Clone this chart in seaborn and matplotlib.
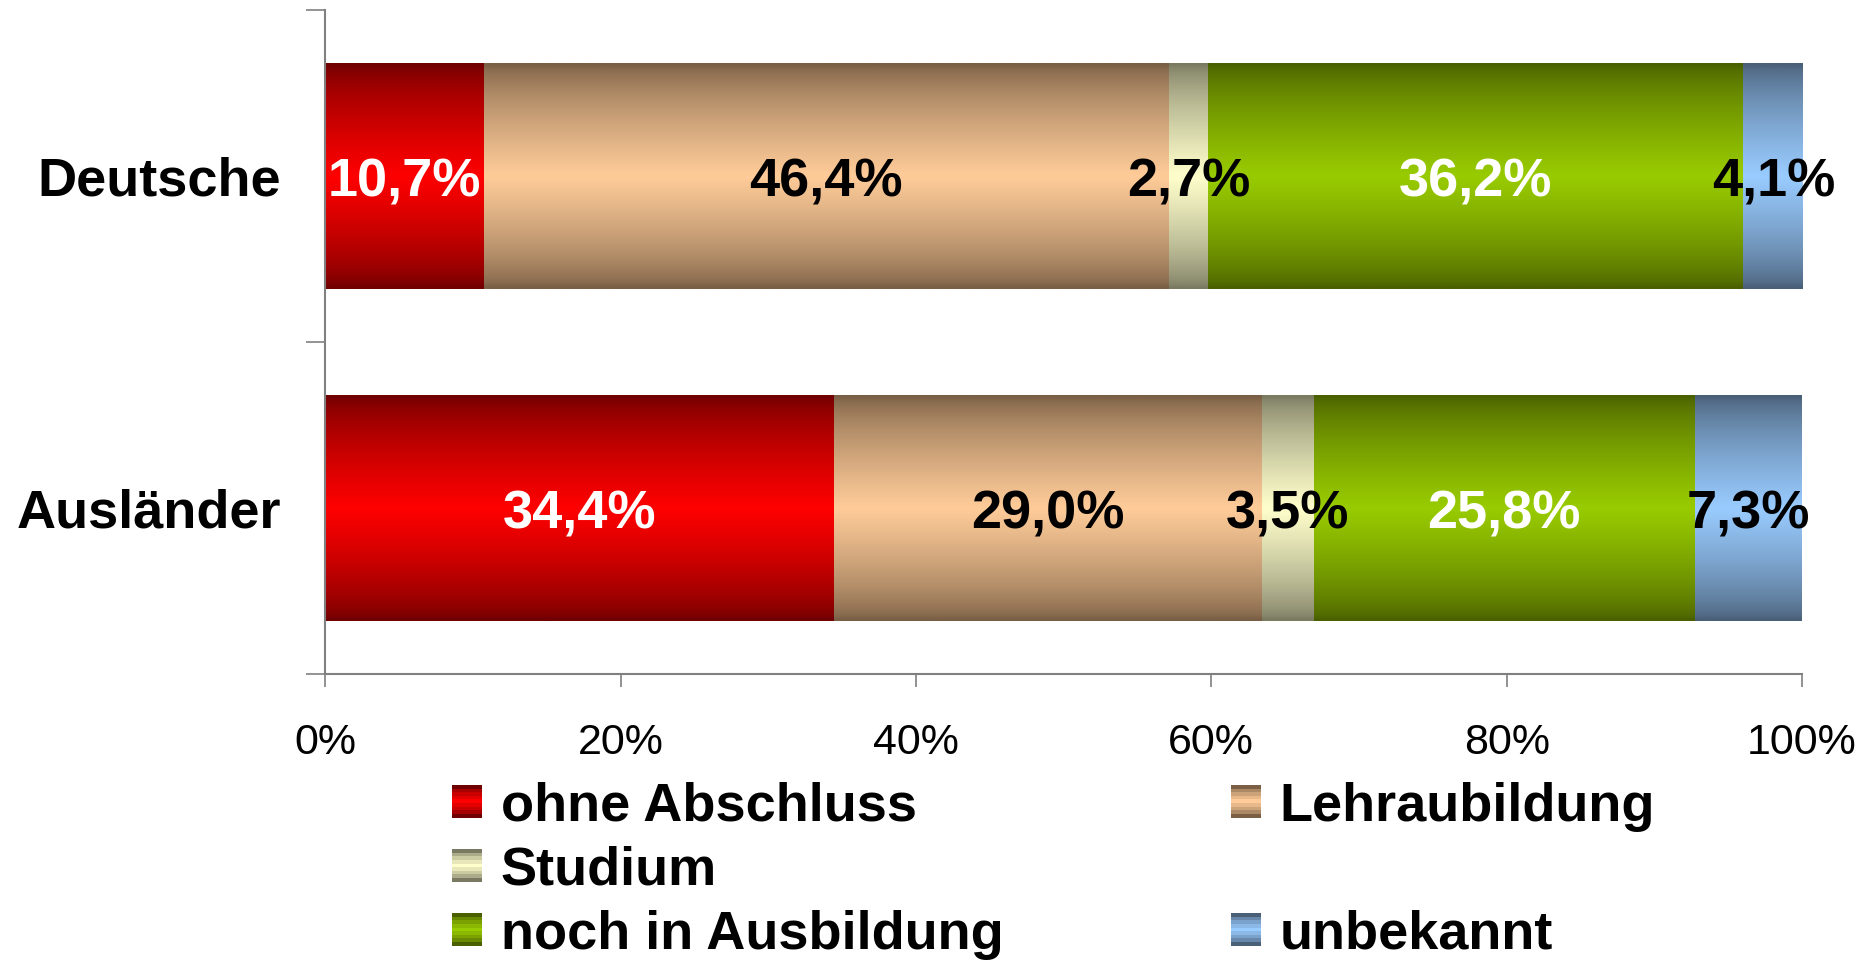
import numpy as np
import pandas as pd
import matplotlib
matplotlib.use('Agg')
import matplotlib.pyplot as plt
import seaborn as sns
from matplotlib.legend_handler import HandlerBase
from matplotlib.patches import Rectangle
from matplotlib.colors import to_rgb

# Daten
groups = ['Deutsche', 'Ausländer']
categories = ['ohne Abschluss', 'Lehraubildung', 'Studium', 'noch in Ausbildung', 'unbekannt']
deutsche = [10.7, 46.4, 2.7, 36.2, 4.1]
auslaender = [34.4, 29.0, 3.5, 25.8, 7.3]
x_ticks = [0, 20, 40, 60, 80, 100]
x_ticklabels = ['0%', '20%', '40%', '60%', '80%', '100%']

# Farben: Mitte hell, Rand dunkel
center_colors = ['#ff0000', '#ffcc99', '#ffffcc', '#99cc00', '#99ccff']
edge_colors = ['#700000', '#7a5f45', '#7a7a62', '#4a6000', '#4a5f78']
label_colors = ['white', 'black', 'black', 'white', 'black']

df = pd.DataFrame({
    'Gruppe': np.repeat(groups, len(categories)),
    'Kategorie': categories * len(groups),
    'Anteil': deutsche + auslaender,
})
df['Ende'] = df.groupby('Gruppe', sort=False)['Anteil'].cumsum()
df['Start'] = df['Ende'] - df['Anteil']


def gradient(c_center, c_edge, n=64):
    t = np.linspace(0, 1, n)
    f = (1 - np.abs(2 * t - 1)) ** 0.7
    c0 = np.array(to_rgb(c_edge))
    c1 = np.array(to_rgb(c_center))
    return c0 + (c1 - c0) * f[:, None]


sns.set_theme(style="white")
plt.rcParams['font.family'] = ['Liberation Sans', 'DejaVu Sans']
plt.rcParams['text.color'] = 'black'

fig = plt.figure(figsize=(18.76, 9.6), dpi=100)
ax = fig.add_axes([0.1733, 0.298, 0.9606 - 0.1733, 0.9896 - 0.298])

# gestapelte Balken: von hinten nach vorne zeichnen
for i in reversed(range(len(categories))):
    cat = categories[i]
    sub = df[df['Kategorie'] == cat]
    n_before = len(ax.patches)
    sns.barplot(data=sub, x='Ende', y='Gruppe', order=groups, orient='h',
                color=center_colors[i], saturation=1, width=0.68,
                errorbar=None, ax=ax)
    new_patches = ax.patches[n_before:]
    cols = gradient(center_colors[i], edge_colors[i])
    for patch, (_, row) in zip(new_patches, sub.iterrows()):
        patch.set_x(row['Start'])
        patch.set_width(row['Anteil'])
        patch.set_linewidth(0)
        y0 = patch.get_y()
        h = patch.get_height()
        ax.imshow(cols[:, None, :], extent=(row['Start'], row['Ende'], y0 + h, y0),
                  aspect='auto', interpolation='bilinear', zorder=2)
        gi = groups.index(row['Gruppe'])
        txt = f"{row['Anteil']:.1f}".replace('.', ',') + '%'
        ax.annotate(txt, (row['Start'] + row['Anteil'] / 2, gi), xytext=(0, -4.5),
                    textcoords='offset points', ha='center', va='center',
                    fontsize=39, fontweight='bold', color=label_colors[i], zorder=5)

ax.set_xlim(0, 100)
ax.set_ylim(1.5, -0.5)
ax.set_xlabel('')
ax.set_ylabel('')

ax.set_xticks(x_ticks)
ax.set_xticklabels(x_ticklabels, fontsize=31)
ax.set_yticks([0, 1])
ax.set_yticklabels(groups, fontsize=39, fontweight='bold')
ax.set_yticks([-0.5, 0.5, 1.5], minor=True)
ax.tick_params(axis='y', which='major', length=0, pad=32, labelcolor='black')
ax.tick_params(axis='y', which='minor', length=14, width=1.2, color='#808080', direction='out', left=True)
ax.tick_params(axis='x', which='major', length=9, width=1.2, color='#808080', direction='out',
               bottom=True, pad=26, labelcolor='black')

for s in ['top', 'right']:
    ax.spines[s].set_visible(False)
for s in ['left', 'bottom']:
    ax.spines[s].set_color('#808080')
    ax.spines[s].set_linewidth(1.5)
ax.grid(False)


# Legende mit Verlaufskästchen
class GradientHandler(HandlerBase):
    def create_artists(self, legend, orig_handle, xdescent, ydescent,
                       width, height, fontsize, trans):
        if not orig_handle.get_visible():
            r = Rectangle((-xdescent, -ydescent), width, height, visible=False,
                          transform=trans)
            return [r]
        k = orig_handle.cat_index
        n = 9
        cols = gradient(center_colors[k], edge_colors[k], n)
        arts = []
        for j in range(n):
            r = Rectangle((-xdescent, -ydescent + height - (j + 1) * height / n),
                          width, height / n + 0.3, facecolor=cols[j], lw=0,
                          transform=trans)
            arts.append(r)
        return arts


def proxy(k):
    r = Rectangle((0, 0), 1, 1)
    r.cat_index = k
    return r


blank = Rectangle((0, 0), 1, 1)
blank.set_visible(False)
blank.cat_index = 0

handles = [proxy(0), proxy(2), proxy(3), proxy(1), blank, proxy(4)]
labels = [categories[0], categories[2], categories[3], categories[1], '', categories[4]]

fig.legend(handles, labels, handler_map={Rectangle: GradientHandler()},
           loc='upper left', bbox_to_anchor=(0.241, 0.1856), ncol=2, frameon=False,
           prop={'size': 39, 'weight': 'bold'}, labelcolor='black',
           handlelength=0.55, handleheight=0.55,
           handletextpad=0.35, columnspacing=4.2, labelspacing=0.26,
           borderpad=0, borderaxespad=0)

plt.savefig('out.png', dpi=100)
